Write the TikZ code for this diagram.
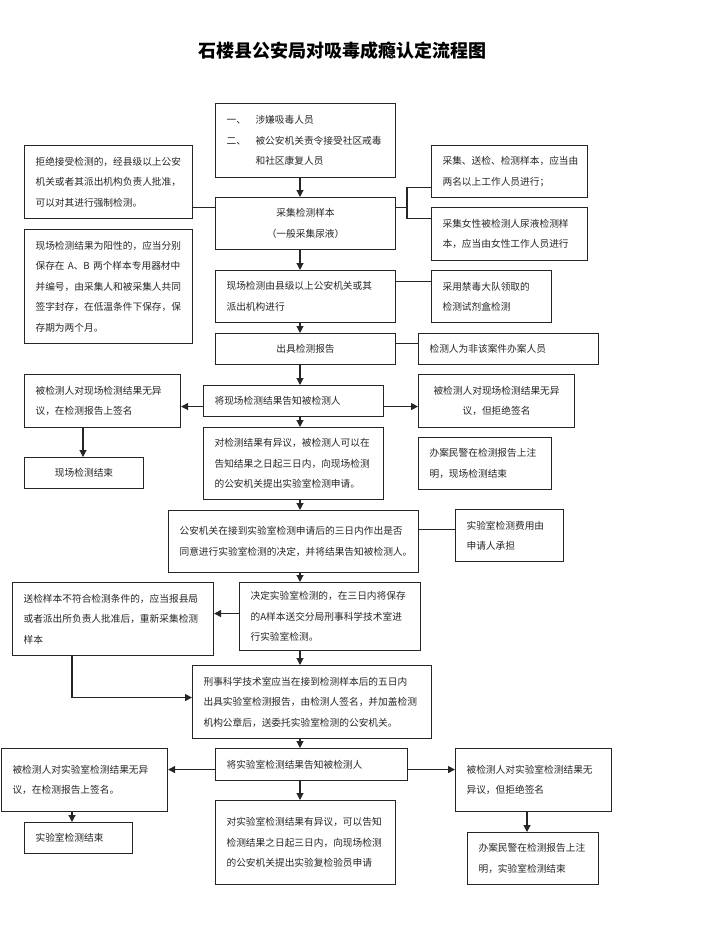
\documentclass[tikz,border=0pt]{standalone}
\usepackage{fontspec}
\setmainfont{Noto Sans CJK SC}
\usetikzlibrary{arrows.meta}
\tikzset{
  bx/.style={draw=black!85, line width=1.1pt, anchor=north west, inner xsep=11pt, inner ysep=0pt,
    align=left, font=\fontsize{9.7}{20.5}\selectfont, text=black!85},
  bxc/.style={bx, align=center},
  ln/.style={draw=black!85, line width=1.1pt},
  arr/.style={ln, -{Triangle[length=7pt,width=7pt]}},
  ttl/.style={font=\fontsize{18}{20}\selectfont\bfseries, text=black}
}
\begin{document}
\begin{tikzpicture}[x=1pt,y=-1pt]
\useasboundingbox (0,0) rectangle (713,936);
\node[ttl] (T) at (342,51) {石楼县公安局对吸毒成瘾认定流程图};

\node[bx, text width=158pt, minimum height=74pt] (B1) at (215,103)
  {\makebox[29pt][l]{一、}涉嫌吸毒人员\\\makebox[29pt][l]{二、}被公安机关责令接受社区戒毒\\\hspace*{29pt}和社区康复人员};
\node[bx, text width=146pt, minimum height=73pt] (L1) at (24,145)
  {拒绝接受检测的，经县级以上公安\\机关或者其派出机构负责人批准，\\可以对其进行强制检测。};
\node[bxc, text width=158pt, minimum height=52pt] (B2) at (215,197)
  {采集检测样本\\（一般采集尿液）};
\node[bx, text width=134pt, minimum height=52pt] (R1) at (431,145)
  {采集、送检、检测样本，应当由\\两名以上工作人员进行；};
\node[bx, text width=134pt, minimum height=53pt] (R2) at (431,207)
  {采集女性被检测人尿液检测样\\本，应当由女性工作人员进行};
\node[bx, text width=146pt, minimum height=114pt] (L2) at (24,229)
  {现场检测结果为阳性的，应当分别\\保存在 A、B 两个样本专用器材中\\并编号，由采集人和被采集人共同\\签字封存，在低温条件下保存，保\\存期为两个月。};
\node[bx, text width=158pt, minimum height=52pt] (B3) at (215,270)
  {现场检测由县级以上公安机关或其\\派出机构进行};
\node[bx, text width=98pt, minimum height=52pt] (R3) at (431,270)
  {采用禁毒大队领取的\\检测试剂盒检测};
\node[bxc, text width=158pt, minimum height=31pt] (B4) at (215,333)
  {出具检测报告};
\node[bx, text width=158pt, minimum height=31pt] (R4) at (418,333)
  {检测人为非该案件办案人员};
\node[bx, text width=158pt, minimum height=31pt] (B5) at (203,385)
  {将现场检测结果告知被检测人};
\node[bx, text width=134pt, minimum height=53pt] (L3) at (24,374)
  {被检测人对现场检测结果无异\\议，在检测报告上签名};
\node[bxc, text width=134pt, minimum height=53pt] (R5) at (418,374)
  {被检测人对现场检测结果无异\\议，但拒绝签名};
\node[bxc, text width=97pt, minimum height=31pt] (L4) at (24,457)
  {现场检测结束};
\node[bx, text width=111pt, minimum height=52pt] (R6) at (418,437)
  {办案民警在检测报告上注\\明，现场检测结束};
\node[bx, text width=158pt, minimum height=72pt] (B6) at (203,427)
  {对检测结果有异议，被检测人可以在\\告知结果之日起三日内，向现场检测\\的公安机关提出实验室检测申请。};
\node[bx, text width=228pt, minimum height=62pt] (B7) at (168,510)
  {公安机关在接到实验室检测申请后的三日内作出是否\\同意进行实验室检测的决定，并将结果告知被检测人。};
\node[bx, text width=86pt, minimum height=52pt] (R7) at (455,509)
  {实验室检测费用由\\申请人承担};
\node[bx, text width=159pt, minimum height=68pt] (B8) at (239,582)
  {决定实验室检测的，在三日内将保存\\的A样本送交分局刑事科学技术室进\\行实验室检测。};
\node[bx, text width=179pt, minimum height=73pt] (L5) at (12,582)
  {送检样本不符合检测条件的，应当报县局\\或者派出所负责人批准后，重新采集检测\\样本};
\node[bx, text width=217pt, minimum height=73pt] (B9) at (192,665)
  {刑事科学技术室应当在接到检测样本后的五日内\\出具实验室检测报告，由检测人签名，并加盖检测\\机构公章后，送委托实验室检测的公安机关。};
\node[bx, text width=170pt, minimum height=32pt] (B10) at (215,748)
  {将实验室检测结果告知被检测人};
\node[bx, text width=144pt, minimum height=63pt] (L6) at (1,748)
  {被检测人对实验室检测结果无异\\议，在检测报告上签名。};
\node[bx, text width=86pt, minimum height=31pt] (L7) at (24,822)
  {实验室检测结束};
\node[bx, text width=158pt, minimum height=84pt] (B11) at (215,800)
  {对实验室检测结果有异议，可以告知\\检测结果之日起三日内，向现场检测\\的公安机关提出实验复检验员申请};
\node[bx, text width=134pt, minimum height=63pt] (R8) at (455,748)
  {被检测人对实验室检测结果无\\异议，但拒绝签名};
\node[bx, text width=109pt, minimum height=52pt] (R9) at (467,832)
  {办案民警在检测报告上注\\明，实验室检测结束};

\coordinate (ax) at (300,0);
\coordinate (lx) at (72,0);
\coordinate (lx2) at (83,0);
\coordinate (rx) at (527,0);
\coordinate (jx) at (407,0);

\foreach \a/\b in {B1/B2,B2/B3,B3/B4,B4/B5,B5/B6,B6/B7,B7/B8,B8/B9,B9/B10,B10/B11}
  \draw[arr] (\a.south -| ax) -- (\b.north -| ax);

\coordinate (c1) at ([yshift=16pt]B2.west);
\draw[ln] (c1) -- (L1.east |- c1);
\coordinate (c2) at ([yshift=16pt]B2.east);
\coordinate (c3) at ([yshift=-16pt]R1.west);
\coordinate (c4) at ([yshift=15.5pt]R2.west);
\draw[ln] (c2) -- (c2 -| jx);
\draw[ln] (c3) -- (c3 -| jx) -- (c4 -| jx) -- (c4);
\coordinate (c5) at ([yshift=15pt]B3.east);
\draw[ln] (c5) -- (R3.west |- c5);
\coordinate (c6) at ([yshift=5.5pt]B4.east);
\draw[ln] (c6) -- (R4.west |- c6);
\coordinate (c7) at ([yshift=-5.5pt]B5.west);
\draw[arr] (c7) -- (L3.east |- c7);
\coordinate (c8) at ([yshift=-5.5pt]B5.east);
\draw[arr] (c8) -- (R5.west |- c8);
\draw[arr] (L3.south -| lx2) -- (L4.north -| lx2);
\coordinate (c9) at ([yshift=12pt]B7.east);
\draw[ln] (c9) -- (R7.west |- c9);
\coordinate (c10) at ([yshift=3pt]B8.west);
\draw[arr] (c10) -- (L5.east |- c10);
\coordinate (c11) at ([yshift=4.5pt]B9.west);
\draw[arr] (L5.south -| lx) |- (c11);
\coordinate (c12) at ([yshift=-5pt]B10.west);
\draw[arr] (c12) -- (L6.east |- c12);
\coordinate (c13) at ([yshift=-5pt]B10.east);
\draw[arr] (c13) -- (R8.west |- c13);
\draw[arr] (L6.south -| lx) -- (L7.north -| lx);
\draw[arr] (R8.south -| rx) -- (R9.north -| rx);
\end{tikzpicture}
\end{document}
